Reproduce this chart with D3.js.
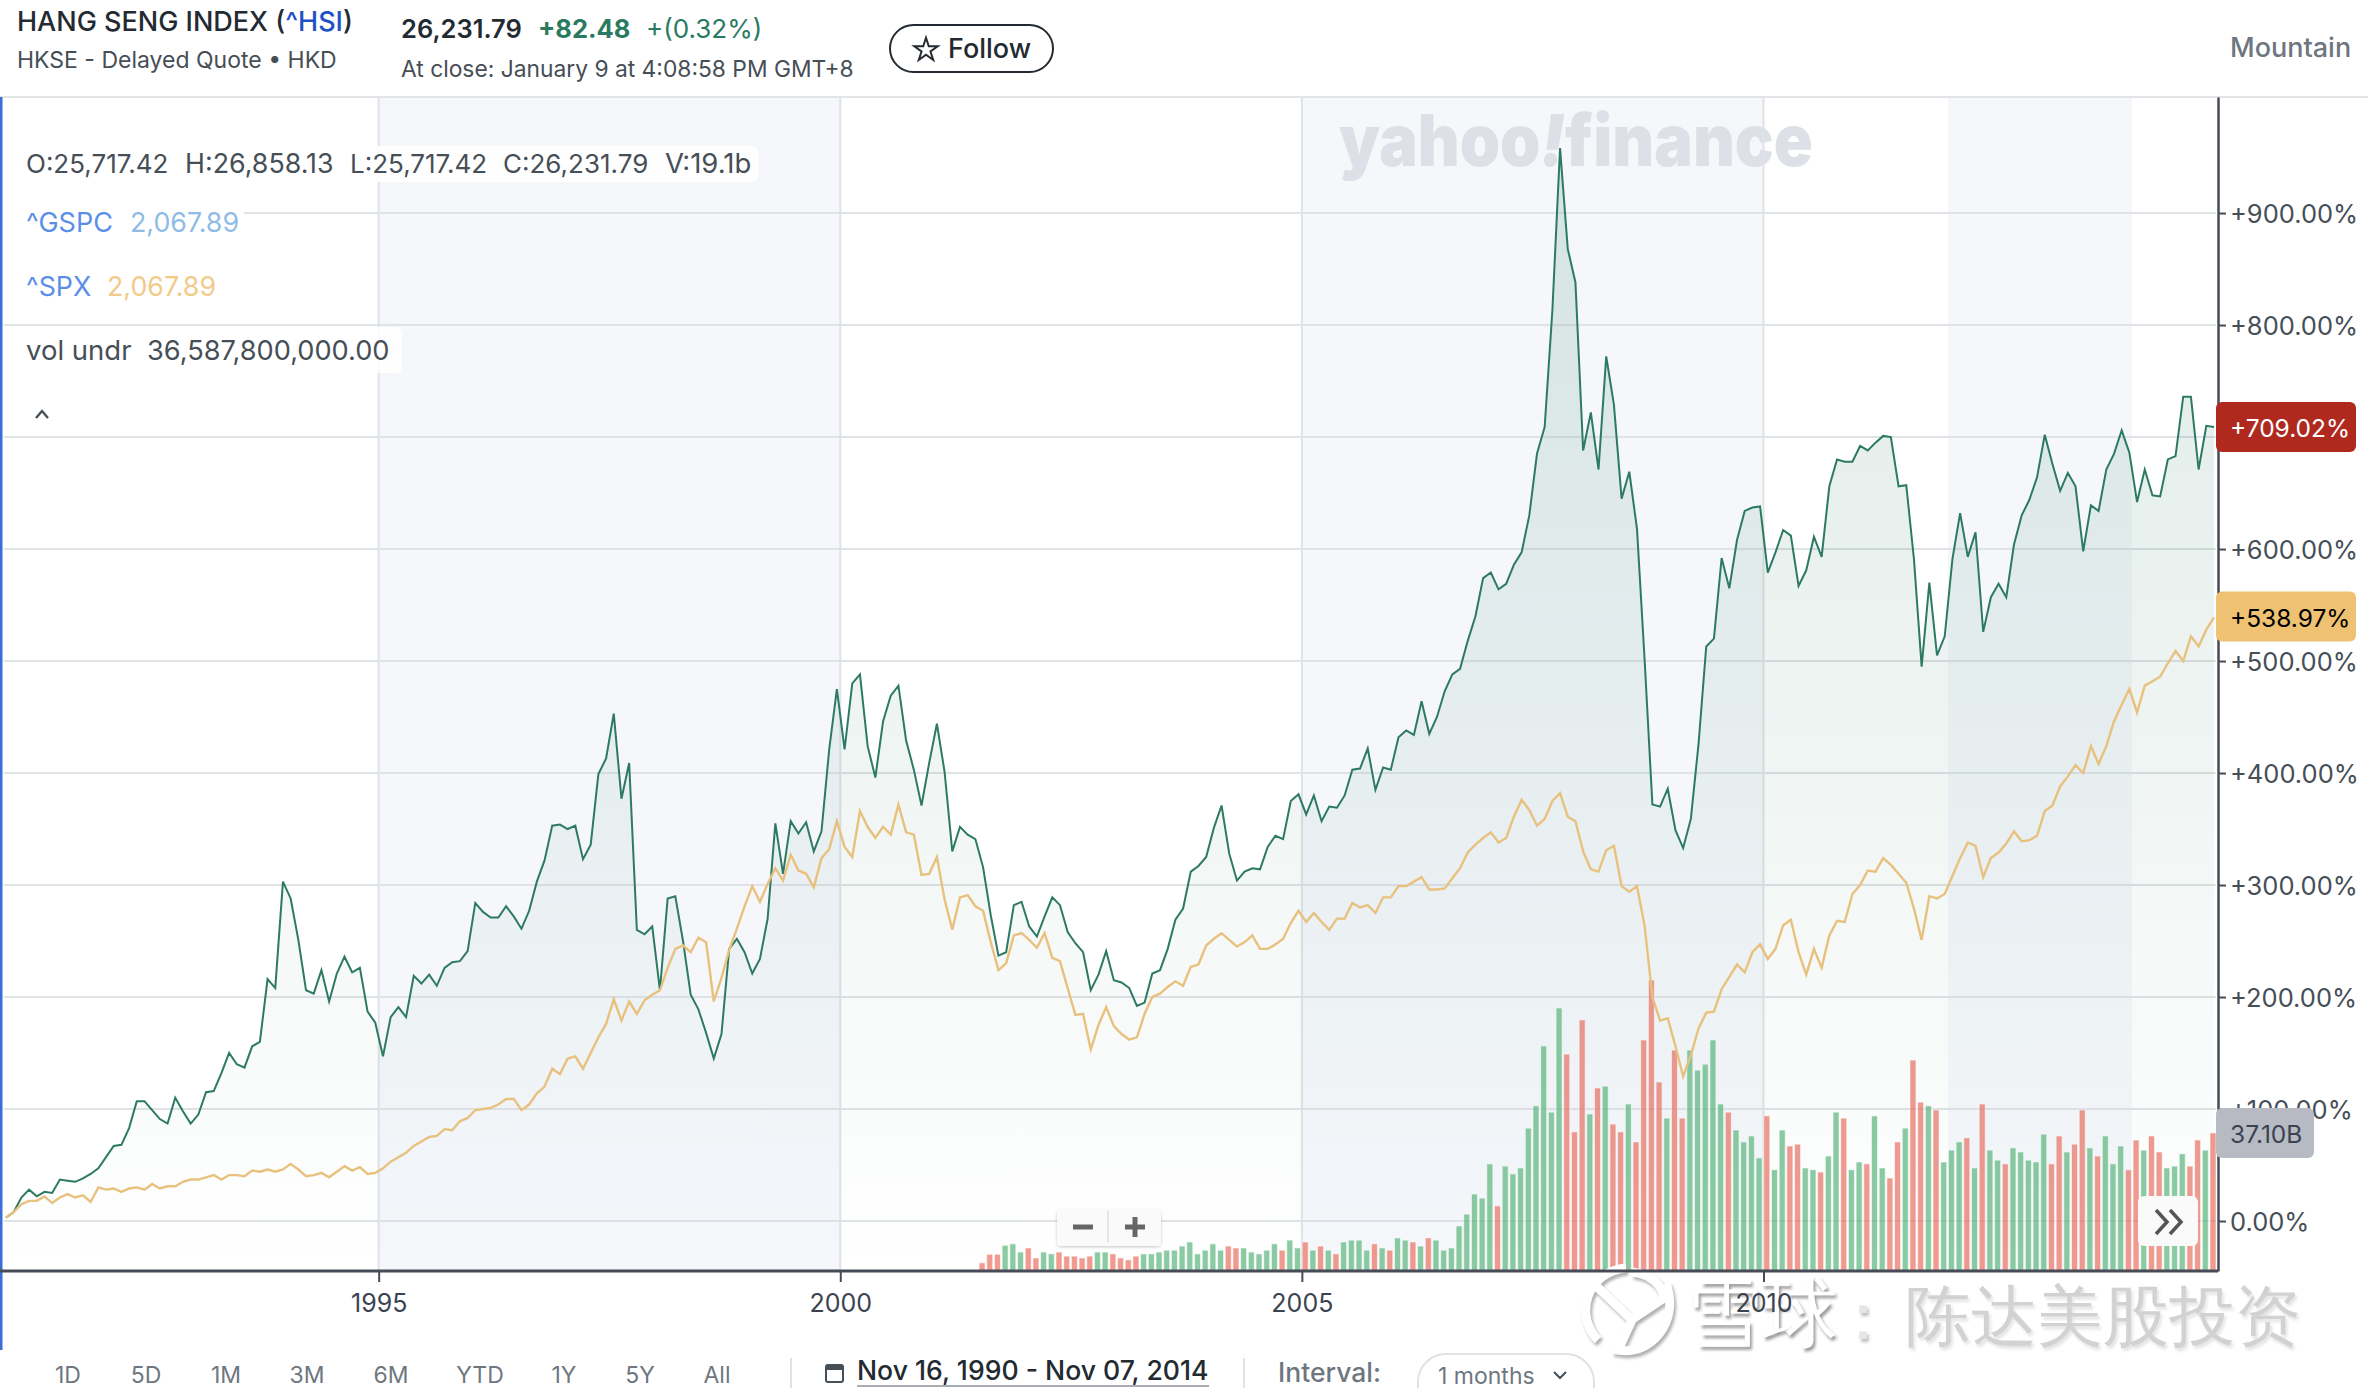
<!DOCTYPE html>
<html>
<head>
<meta charset="utf-8">
<script src="https://cdn.jsdelivr.net/npm/d3@7"></script>
<style>
  html, body { margin: 0; padding: 0; background: #fff; }
  svg { display: block; }
  text { font-family: Inter, "Noto Sans", sans-serif; }
</style>
</head>
<body>
<div id="main-frame"></div>
<script>
// percent change since the first month, one value per month
const hsiValues = [
  3,8,21,28,22,26,25,37,36,35,
  38,42,47,57,67,68,83,107,107,99,
  91,87,110,98,87,95,115,116,132,150,
  140,137,156,160,216,208,303,288,251,206,
  203,224,196,221,236,222,226,187,177,147,
  182,191,182,219,212,220,210,226,231,232,
  241,284,276,271,271,281,272,261,277,303,
  322,353,354,350,353,323,336,399,413,453,
  377,409,260,256,263,206,288,290,250,202,
  189,168,145,167,243,252,240,221,234,270,
  355,310,357,346,356,330,348,421,475,421,
  480,488,424,396,446,469,478,429,403,371,
  409,444,401,330,352,345,341,316,273,237,
  240,282,285,263,254,272,289,282,258,248,
  240,206,220,241,215,213,208,192,195,221,
  224,243,269,279,312,317,325,351,371,328,
  304,312,315,314,334,344,341,375,381,363,
  380,357,370,369,380,403,404,422,385,405,
  403,432,438,434,464,435,450,473,488,493,
  518,540,574,579,564,569,586,597,630,685,
  709,813,958,868,838,688,722,671,772,729,
  645,669,618,500,372,370,386,349,333,359,
  426,513,520,592,565,608,634,637,638,579,
  597,617,612,567,581,611,593,656,680,678,
  678,692,688,695,701,700,656,657,591,495,
  570,505,522,591,632,593,615,526,557,569,
  557,604,630,644,664,702,676,652,668,656,
  598,639,634,671,685,706,686,642,671,648,
  647,680,683,736,736,671,710,709
];

const spxValues = [
  3,8,15,18,18,22,16,21,24,21,
  23,17,30,28,29,26,29,30,28,33,
  29,31,31,35,37,37,39,41,37,41,
  41,40,45,44,46,44,46,51,46,40,
  41,43,39,44,49,45,48,42,43,47,
  53,57,61,67,71,75,76,82,81,89,
  92,99,100,101,104,109,109,99,104,114,
  120,136,131,145,147,136,150,164,176,198,
  179,196,185,197,202,206,226,243,246,240,
  253,249,196,217,242,261,281,299,285,301,
  315,304,327,313,310,298,324,332,357,334,
  325,366,352,342,352,345,372,347,345,309,
  310,325,287,260,289,291,281,277,249,224,
  230,255,257,251,244,257,235,232,208,184,
  185,153,175,191,174,167,162,164,185,200,
  203,209,214,210,227,229,246,252,257,251,
  245,249,255,243,243,247,252,266,277,267,
  275,267,260,270,270,284,280,282,275,289,
  289,299,299,303,307,296,296,297,306,315,
  329,336,342,347,338,342,361,376,367,353,
  359,375,382,361,357,330,314,312,331,335,
  299,294,299,263,200,179,181,156,129,148,
  172,186,187,207,218,229,222,240,247,234,
  243,264,269,240,220,243,226,255,268,267,
  292,300,313,312,324,318,310,302,279,251,
  290,288,292,308,324,338,335,307,324,329,
  337,348,339,340,344,366,371,388,397,407,
  400,424,408,424,446,461,475,454,478,482,
  486,498,509,500,522,513,528,539
];

// volume in billions, starts at month 127
const volumeStart = 127;
const volumeValues = [
  2.2,4.5,4.5,
  6.9,7.3,5.1,6.2,3.5,5.1,4.6,5.1,4.0,4.0,
  3.5,4.0,5.1,5.1,4.6,3.5,3.0,4.0,4.6,4.6,
  5.1,5.6,5.6,6.7,7.8,4.6,5.6,7.3,5.6,6.7,
  6.2,6.2,5.1,4.6,5.6,7.3,5.6,8.3,6.2,7.8,
  5.6,6.7,5.6,4.6,7.8,8.3,8.3,5.6,7.3,6.2,
  5.6,8.9,8.3,7.8,6.7,8.9,8.3,5.6,6.2,12.1,
  15.3,20.7,19.6,28.8,17.5,28.2,26.1,27.7,38.4,44.4,
  60.5,42.7,70.7,58.3,37.4,67.5,42.2,49.2,49.7,39.5,
  37.4,44.9,34.7,62.1,78.2,50.8,41.1,59.4,41.1,59.4,
  54.0,55.6,62.1,44.9,42.7,37.9,34.7,36.3,30.4,41.7,
  27.2,37.9,33.6,34.1,27.7,27.2,26.6,30.9,42.7,41.1,
  27.2,29.3,28.8,41.7,27.7,25.0,34.7,38.4,56.7,45.4,
  44.4,43.3,29.3,32.5,34.7,35.8,27.7,44.9,32.5,29.8,
  28.8,33.1,32.0,29.8,29.3,36.8,28.8,36.3,32.0,34.1,
  43.3,33.1,30.9,36.3,28.8,33.6,27.2,35.2,32.5,36.3,
  32.0,27.7,28.2,31.5,28.2,35.2,32.5,37.1
];
// g = up month, r = down month
const volumeDirection = (
  "rrr" +
  "gggrrggrrr" + "rrggrrrrgg" + "gggggggggr" + "rgggggrggr" +
  "grgrggggrg" + "rggrgrgggg" + "ggggrggggg" + "gggrrrgrgr" +
  "rgrrrrgrrg" + "ggggrggggr" + "ggrrggrggr" + "ggrggrrgrr" +
  "grgggrgrgg" + "rgggggrrgr" + "rgrgggrrgr" + "rgggrrgr"
).split("");

const yTickValues = [0, 100, 200, 300, 400, 500, 600, 700, 800, 900];
const yTickLabels = ["0.00%", "+100.00%", "+200.00%", "+300.00%", "+400.00%",
  "+500.00%", "+600.00%", "+700.00%", "+800.00%", "+900.00%"];
const xTickMonths = [48.44, 108.44, 168.44, 228.44];
const xTickLabels = ["1995", "2000", "2005", "2010"];
const shadedBands = [[48.44, 108.44], [168.44, 228.44], [252.4, 276.3]];
const rangeButtons = ["1D", "5D", "1M", "3M", "6M", "YTD", "1Y", "5Y", "All"];

const width = 2368, height = 1388;
const plotTop = 97, plotBottom = 1271, plotRight = 2218;

const svg = d3.select("#main-frame").append("svg")
  .attr("width", width)
  .attr("height", height)
  .attr("viewBox", `0 0 ${width} ${height}`);

const x = d3.scaleLinear().domain([0, 287]).range([6, 2214]);
const y = d3.scaleLinear().domain([-44.64, 1003.6]).range([plotBottom, plotTop]);
const yVolume = d3.scaleLinear().domain([0, 100]).range([plotBottom, plotBottom - 372]);

const defs = svg.append("defs");
const gradient = defs.append("linearGradient")
  .attr("id", "hsi-fill")
  .attr("gradientUnits", "userSpaceOnUse")
  .attr("x1", 0).attr("x2", 0)
  .attr("y1", y(958)).attr("y2", plotBottom);
gradient.append("stop").attr("offset", 0).attr("stop-color", "#2d7a63").attr("stop-opacity", 0.16);
gradient.append("stop").attr("offset", 1).attr("stop-color", "#2d7a63").attr("stop-opacity", 0);

const shadow = defs.append("filter").attr("id", "soft").attr("x", "-20%").attr("y", "-20%")
  .attr("width", "140%").attr("height", "150%");
shadow.append("feDropShadow").attr("dx", 0).attr("dy", 1).attr("stdDeviation", 1.5)
  .attr("flood-color", "#000").attr("flood-opacity", 0.22);
const blur = defs.append("filter").attr("id", "blur");
blur.append("feGaussianBlur").attr("stdDeviation", 1.4);

// shaded year bands
svg.append("g").selectAll("rect").data(shadedBands).enter().append("rect")
  .attr("x", (d) => x(d[0]))
  .attr("y", plotTop)
  .attr("width", (d) => x(d[1]) - x(d[0]))
  .attr("height", plotBottom - plotTop)
  .attr("fill", "#f5f7fb");

// watermark behind the lines
const brand = svg.append("text")
  .attr("x", 1339).attr("y", 166)
  .attr("font-size", 72).attr("font-weight", 900)
  .attr("fill", "#dde1e7")
  .attr("textLength", 474).attr("lengthAdjust", "spacingAndGlyphs");
brand.append("tspan").text("yahoo");
brand.append("tspan").attr("font-style", "italic").text("!");
brand.append("tspan").text("finance");

// grid
svg.append("g").selectAll("line").data(yTickValues).enter().append("line")
  .attr("x1", 4).attr("x2", 2216)
  .attr("y1", (d) => y(d)).attr("y2", (d) => y(d))
  .attr("stroke", "#dfe2e6").attr("stroke-width", 2);
svg.append("g").selectAll("line").data(xTickMonths).enter().append("line")
  .attr("x1", (d) => x(d)).attr("x2", (d) => x(d))
  .attr("y1", plotTop).attr("y2", plotBottom)
  .attr("stroke", "#dfe2e6").attr("stroke-width", 2);

// volume bars
const volumeData = volumeValues.map((v, i) => ({ month: volumeStart + i, value: v, dir: volumeDirection[i] }));
svg.append("g").selectAll("rect").data(volumeData).enter().append("rect")
  .attr("x", (d) => x(d.month) - 4)
  .attr("y", (d) => yVolume(d.value))
  .attr("width", 6)
  .attr("height", (d) => plotBottom - yVolume(d.value))
  .attr("fill", (d) => (d.dir === "g" ? "#54b277" : "#ea6a5c"))
  .attr("fill-opacity", 0.68)
  .attr("stroke", "#fff")
  .attr("stroke-opacity", 0.6);

// HSI area and the two lines
const area = d3.area().x((d, i) => x(i)).y0(plotBottom).y1((d) => y(d));
const line = d3.line().x((d, i) => x(i)).y((d) => y(d));
svg.append("path").attr("d", area(hsiValues)).attr("fill", "url(#hsi-fill)");
svg.append("path").attr("d", line(hsiValues)).attr("fill", "none")
  .attr("stroke", "#2d7a63").attr("stroke-width", 2);
svg.append("path").attr("d", line(spxValues)).attr("fill", "none")
  .attr("stroke", "#e8c17e").attr("stroke-width", 2.4);

// frame
svg.append("rect").attr("x", 0).attr("y", 96).attr("width", width).attr("height", 2).attr("fill", "#e2e4e8");
svg.append("rect").attr("x", 0).attr("y", 97).attr("width", 2.5).attr("height", 1253).attr("fill", "#3b6fd8");

// legend block at top left
svg.append("rect").attr("x", 4).attr("y", 146).attr("width", 754).attr("height", 36).attr("rx", 6)
  .attr("fill", "#fff").attr("fill-opacity", 0.85);
svg.append("rect").attr("x", 4).attr("y", 327).attr("width", 398).attr("height", 46).attr("rx", 6)
  .attr("fill", "#fff").attr("fill-opacity", 0.85);
svg.append("rect").attr("x", 4).attr("y", 202).attr("width", 240).attr("height", 44).attr("fill", "#fff");
svg.append("rect").attr("x", 4).attr("y", 266).attr("width", 216).attr("height", 44).attr("fill", "#fff");

function label(txt, px, py, size, color, weight, anchor) {
  return svg.append("text").attr("x", px).attr("y", py)
    .attr("font-size", size).attr("fill", color)
    .attr("font-weight", weight || 400)
    .attr("text-anchor", anchor || "start")
    .text(txt);
}

const ohlc = ["O:25,717.42", "H:26,858.13", "L:25,717.42", "C:26,231.79", "V:19.1b"];
const ohlcX = [26, 185, 350, 503, 665];
const ohlcSize = [26, 26.8, 26, 26, 27.5];
ohlc.forEach((t, i) => label(t, ohlcX[i], 173, ohlcSize[i], "#464e56"));
label("^GSPC", 26, 232, 27, "#5b8ee8");
label("2,067.89", 130, 232, 26.8, "#8fbce6");
label("^SPX", 26, 296, 26.8, "#5b8ee8");
label("2,067.89", 107, 296, 26.8, "#f2ca8a");
label("vol undr", 26, 360, 27.5, "#464e56");
label("36,587,800,000.00", 147, 360, 27.2, "#464e56");
svg.append("path").attr("d", "M36 418 L42 411 L48 418").attr("fill", "none")
  .attr("stroke", "#464e56").attr("stroke-width", 2.4);

// header
const title = label("HANG SENG INDEX (", 17, 31, 27, "#232a31", 500);
title.append("tspan").attr("fill", "#1e50c8").text("^HSI");
title.append("tspan").text(")");
label("HKSE - Delayed Quote • HKD", 17, 68, 23, "#464e56");
label("26,231.79", 401, 38, 25.5, "#232a31", 600);
label("+82.48", 538, 38, 25.5, "#2a7a5f", 700);
label("+(0.32%)", 646, 38, 26, "#2a7a5f", 400);
label("At close: January 9 at 4:08:58 PM GMT+8", 401, 77, 22.8, "#464e56");
svg.append("rect").attr("x", 890).attr("y", 25).attr("width", 163).attr("height", 47).attr("rx", 23.5)
  .attr("fill", "#fff").attr("stroke", "#232a31").attr("stroke-width", 2);
svg.append("path").attr("transform", "translate(926,50)")
  .attr("d", d3.symbol(d3.symbolStar, 170)()).attr("fill", "none")
  .attr("stroke", "#232a31").attr("stroke-width", 2);
label("Follow", 948, 58, 27, "#232a31", 500);
label("Mountain", 2230, 57, 27, "#6e7780", 500);

// zoom buttons and the scroll button
const zoomBox = svg.append("g");
zoomBox.append("rect").attr("x", 1057).attr("y", 1210).attr("width", 104).attr("height", 36).attr("rx", 4)
  .attr("fill", "#fafafa").attr("filter", "url(#soft)");
zoomBox.append("line").attr("x1", 1108).attr("x2", 1108).attr("y1", 1211).attr("y2", 1242).attr("stroke", "#dcdcdc").attr("stroke-width", 1.5);
zoomBox.append("path").attr("d", "M1073 1227 H1093 M1125 1227 H1145 M1135 1217 V1237")
  .attr("stroke", "#666").attr("stroke-width", 5).attr("fill", "none");
svg.append("rect").attr("x", 2138).attr("y", 1196).attr("width", 60).attr("height", 50).attr("rx", 6).attr("fill", "#fafafa");
svg.append("path").attr("d", "M2156 1210 L2167 1222 L2156 1234 M2170 1210 L2181 1222 L2170 1234")
  .attr("stroke", "#555").attr("stroke-width", 3.5).attr("fill", "none");

// axes
const yAxis = d3.axisRight(y).tickValues(yTickValues)
  .tickFormat((d, i) => yTickLabels[i]).tickSize(8).tickSizeOuter(0).tickPadding(4);
const yAxisG = svg.append("g").attr("transform", `translate(${plotRight},0)`).call(yAxis);
yAxisG.select(".domain").attr("stroke", "#464b57").attr("stroke-width", 2.5);
yAxisG.selectAll(".tick line").attr("stroke", "#464b57").attr("stroke-width", 2);
yAxisG.selectAll(".tick text").attr("font-size", 25.5).attr("font-family", "Inter")
  .attr("fill", "#464e56").attr("dy", "0.38em");

// bottom right watermark
const mark = svg.append("g").attr("font-family", '"Noto Sans CJK SC"').attr("font-weight", 500);
const cjkParts = [
  { t: "雪球", x: 1686, size: 76, fill: "#fff", back: "#9a9a9a" },
  { t: "：", x: 1830, size: 66, fill: "#e6e6e6", back: "#bdbdbd" },
  { t: "陈达美股投资", x: 1905, size: 66, fill: "#d2d2d2", back: "#e4e4e4" }
];
cjkParts.forEach((p) => {
  mark.append("text").attr("x", p.x + 2).attr("y", 1342).attr("font-family", '"Noto Sans CJK SC"')
    .attr("font-size", p.size).attr("fill", p.back).attr("filter", "url(#blur)").text(p.t);
  mark.append("text").attr("x", p.x).attr("y", 1339).attr("font-family", '"Noto Sans CJK SC"')
    .attr("font-size", p.size).attr("fill", p.fill).text(p.t);
});
const logo = "M1626 1268 C1586 1272 1574 1316 1598 1340 M1594 1284 L1632 1320 L1618 1350 C1652 1356 1680 1320 1666 1284 M1632 1272 C1650 1274 1662 1284 1664 1298 L1634 1318";
mark.append("path").attr("d", logo).attr("transform", "translate(2,3)").attr("fill", "none")
  .attr("stroke", "#b0b0b0").attr("stroke-width", 9).attr("filter", "url(#blur)");
mark.append("path").attr("d", logo).attr("fill", "none").attr("stroke", "#fff").attr("stroke-width", 9);

const xAxis = d3.axisBottom(x).tickValues(xTickMonths)
  .tickFormat((d, i) => xTickLabels[i]).tickSize(11).tickSizeOuter(0).tickPadding(12);
const xAxisG = svg.append("g").attr("transform", `translate(0,${plotBottom})`).call(xAxis);
xAxisG.select(".domain").attr("d", `M0,0H${plotRight}`).attr("stroke", "#464b57").attr("stroke-width", 3);
xAxisG.selectAll(".tick line").attr("stroke", "#464b57").attr("stroke-width", 2);
xAxisG.selectAll(".tick text").attr("font-size", 25).attr("font-family", "Inter").attr("fill", "#3c4350");

// price tags on the right axis
const tags = [
  { value: 709.02, scale: y, text: "+709.02%", w: 140, fill: "#b0291f", color: "#fff" },
  { value: 539.7, scale: y, text: "+538.97%", w: 140, fill: "#eec272", color: "#000" },
  { value: 37.1, scale: yVolume, text: "37.10B", w: 98, fill: "#b8bac3", color: "#3c4350" }
];
const tagG = svg.append("g").selectAll("g").data(tags).enter().append("g")
  .attr("transform", (d) => `translate(2216,${d.scale(d.value)})`);
tagG.append("rect").attr("y", -25).attr("width", (d) => d.w).attr("height", 50).attr("rx", 6)
  .attr("fill", (d) => d.fill);
tagG.append("text").attr("x", 14).attr("y", 10).attr("font-size", 24.5)
  .attr("fill", (d) => d.color).text((d) => d.text);

// toolbar under the chart
const rangeX = [68, 146, 226, 307, 391, 480, 564, 640, 717];
rangeButtons.forEach((t, i) => label(t, rangeX[i], 1383, 23, "#6e7780", 400, "middle"));
svg.append("line").attr("x1", 791).attr("x2", 791).attr("y1", 1358).attr("y2", 1388).attr("stroke", "#dfe2e6").attr("stroke-width", 2);
svg.append("line").attr("x1", 1244).attr("x2", 1244).attr("y1", 1358).attr("y2", 1388).attr("stroke", "#dfe2e6").attr("stroke-width", 2);
svg.append("rect").attr("x", 826).attr("y", 1365).attr("width", 17).attr("height", 17).attr("rx", 2)
  .attr("fill", "none").attr("stroke", "#464e56").attr("stroke-width", 2);
svg.append("rect").attr("x", 826).attr("y", 1365).attr("width", 17).attr("height", 5).attr("fill", "#464e56");
label("Nov 16, 1990 - Nov 07, 2014", 857, 1380, 26.6, "#232a31", 500);
svg.append("line").attr("x1", 857).attr("x2", 1209).attr("y1", 1386).attr("y2", 1386).attr("stroke", "#a9adb3").attr("stroke-width", 2);
label("Interval:", 1278, 1382, 26.5, "#6e7780", 500);
svg.append("rect").attr("x", 1418).attr("y", 1354).attr("width", 176).attr("height", 60).attr("rx", 28)
  .attr("fill", "#fff").attr("stroke", "#dfe2e6").attr("stroke-width", 2);
label("1 months", 1438, 1384, 23, "#6e7780", 400);
svg.append("path").attr("d", "M1554 1372 L1560 1378 L1566 1372").attr("fill", "none")
  .attr("stroke", "#464e56").attr("stroke-width", 2);
</script>
</body>
</html>
